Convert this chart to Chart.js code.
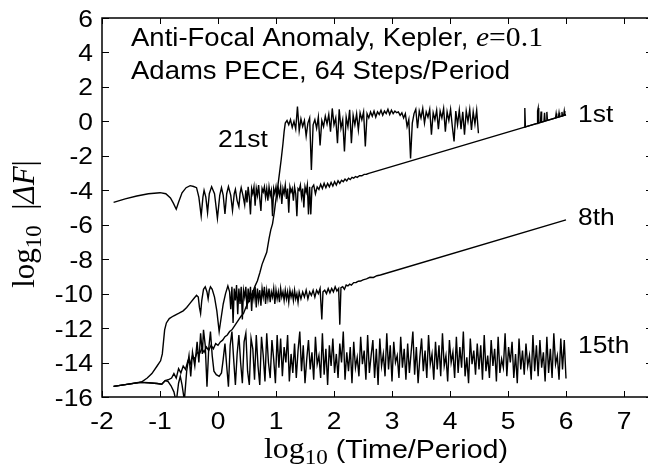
<!DOCTYPE html>
<html>
<head>
<meta charset="utf-8">
<title>Anti-Focal Anomaly error growth</title>
<script src="https://cdn.jsdelivr.net/npm/chart.js@4.4.1/dist/chart.umd.min.js"></script>
<style>
    body { margin: 0; background: #fff; overflow: hidden; }
    canvas { display: block; }
</style>
</head>
<body>
<canvas id="errorChart" width="654" height="466"></canvas>
<script>
// Axis ticks
const xTicks = [-2, -1, 0, 1, 2, 3, 4, 5, 6, 7];
const yTicks = [-16, -14, -12, -10, -8, -6, -4, -2, 0, 2, 4, 6];

// 1st order: log10(time) and log10|dF|
const x1stStart = [-1.80,-1.60,-1.40,-1.20,-1.00,-0.90,-0.82,-0.77,-0.72,-0.68,-0.62,-0.55,-0.48,-0.42,-0.37,-0.33,-0.29,-0.26,-0.24,-0.21,-0.18,-0.15,-0.11,-0.06,-0.01,0.03,0.06,0.09,0.12,0.15,0.18,0.22,0.25,0.28,0.30,0.33,0.36,0.38,0.40,0.43,0.46];
const y1stStart = [-4.70,-4.50,-4.33,-4.20,-4.14,-4.20,-4.45,-4.75,-5.10,-4.70,-4.15,-3.85,-3.73,-3.78,-3.85,-4.40,-5.49,-4.40,-4.01,-4.40,-5.30,-4.20,-3.79,-4.20,-5.63,-4.30,-3.85,-4.30,-5.38,-4.20,-3.79,-4.30,-5.18,-4.20,-3.95,-4.60,-4.95,-4.20,-3.85,-4.30,-4.85];
const x1stNoise = [0.48,0.50,0.52,0.54,0.56,0.58,0.60,0.62,0.64,0.66,0.68,0.70,0.72,0.74,0.76,0.78,0.80,0.82,0.84,0.86,0.88,0.90,0.92,0.94,0.96,0.98,1.00,1.02,1.04,1.06,1.08,1.10,1.12,1.14,1.16,1.18,1.20,1.22,1.24,1.26,1.28,1.30,1.32,1.34,1.36,1.38,1.40,1.42,1.44,1.46,1.48,1.50,1.52,1.54,1.56,1.58,1.60];
const y1stNoise = [-4.0,-4.7,-3.8,-4.4,-5.4,-3.9,-4.2,-3.8,-4.9,-3.9,
    -4.3,-3.7,-4.5,-5.2,-3.9,-4.1,-3.8,-4.4,-3.9,-4.6,
    -3.8,-4.3,-4.0,-5.5,-3.9,-4.2,-3.8,-4.4,-3.9,-4.3,
    -3.8,-4.8,-3.9,-4.2,-3.7,-4.5,-3.9,-5.3,-3.8,-4.1,
    -3.9,-4.6,-3.8,-4.2,-5.5,-3.9,-4.0,-3.7,-4.4,-3.9,
    -5.0,-3.8,-4.1,-3.7,-5.4,-3.8,-5.4];
const x1stTrend = [1.62,1.65,1.68,1.71,1.74,1.77,1.80,1.83,1.86,1.89,1.92,1.95,1.98,2.01,2.04,2.07,2.10,2.13,2.16,2.19,2.22,2.25,2.28,2.31,2.34,2.37,2.40,2.44,2.48,2.52,2.56,2.60,6.00];
const y1stTrend = [-3.85,-3.7,-4.2,-3.8,-3.95,-3.65,-3.9,-3.6,-3.85,-3.6,
    -3.8,-3.55,-3.75,-3.5,-3.7,-3.45,-3.6,-3.42,-3.5,-3.35,
    -3.45,-3.3,-3.38,-3.25,-3.3,-3.2,
    -3.25,-3.15,-3.16,-3.08,-3.07,-3.02,0.38];

// 8th order
const x8thStart = [-1.80,-1.60,-1.45,-1.32,-1.22,-1.14,-1.05,-0.99,-0.96,-0.94,-0.92,-0.89,-0.84,-0.77,-0.68,-0.60,-0.54,-0.48,-0.42,-0.37,-0.34,-0.32,-0.30,-0.28,-0.25,-0.22,-0.19,-0.17,-0.15,-0.13,-0.10,-0.06,-0.02,0.02,0.05,0.09,0.13,0.17,0.20];
const y8thStart = [-15.38,-15.28,-15.2,-15.13,-14.9,-14.64,-14.2,-13.9,-13.5,-12.8,-12.1,-11.7,-11.45,-11.3,-11.15,-11.0,-10.8,-10.55,-10.3,-10.1,-10.2,-10.8,-11.15,-10.4,-9.75,-9.6,-9.9,-10.3,-9.8,-9.6,-9.75,-10.2,-11.0,-12.2,-11.5,-10.6,-10.0,-9.55,-9.9];
const x8thNoise = [0.22,0.24,0.26,0.28,0.30,0.32,0.34,0.36,0.38,0.40,0.42,0.44,0.46,0.48,0.50,0.52,0.54,0.56,0.58,0.60,0.62,0.64,0.66,0.68,0.70,0.72,0.74,0.76,0.78,0.80,0.82,0.84,0.86,0.88,0.90,0.92,0.94,0.96,0.98,1.00,1.02,1.04,1.06,1.08,1.10,1.12,1.14,1.16,1.18,1.20,1.22,1.24,1.26,1.28,1.30,1.32,1.34,1.36,1.38,1.40];
const y8thNoise = [-10.9,-9.6,-11.7,-9.7,-10.4,-9.5,-11.2,-9.7,-10.6,-9.6,
    -11.5,-9.8,-10.2,-9.6,-10.9,-9.7,-10.5,-9.6,-11.0,-9.8,
    -10.3,-9.6,-10.8,-9.7,-10.4,-9.8,-10.7,-9.7,-10.2,-9.6,
    -10.6,-9.8,-10.3,-9.7,-10.5,-9.9,-10.2,-9.7,-10.6,-9.8,
    -10.3,-9.9,-10.5,-9.7,-10.2,-9.9,-10.4,-9.8,-10.3,-9.9,
    -10.5,-9.8,-10.2,-9.9,-10.4,-9.8,-10.3,-10.0,-10.5,-9.9];
const x8thTrend = [1.43,1.46,1.49,1.52,1.55,1.58,1.61,1.64,1.67,1.70,1.73,1.76,1.79,1.81,1.84,1.87,1.90,1.93,1.96,1.99,2.02,2.05,2.08,2.10,2.12,2.15,2.18,2.21,2.24,2.27,2.30,2.34,2.38,2.42,2.46,2.50,2.56,2.62,2.68,2.74,2.80,6.00];
const y8thTrend = [-10.3,-9.9,-10.2,-9.8,-10.3,-9.9,-10.1,-9.8,-10.2,-9.8,
    -10.0,-9.7,-11.5,-9.9,-9.8,-10.0,-9.7,-9.95,-9.7,-9.9,
    -9.6,-9.85,-9.7,-11.8,-9.65,-9.6,-9.75,-9.5,-9.55,-9.45,
    -9.5,-9.36,-9.35,-9.28,-9.27,-9.2,-9.14,-9.05,-9.06,-8.96,
    -8.92,-5.72];

// 15th order
const x15thStart = [-1.80,-1.60,-1.34,-1.20,-1.05,-0.97,-0.91,-0.86,-0.81,-0.76,-0.72,-0.68,-0.65,-0.62,-0.58,-0.54,-0.50,-0.47,-0.44,-0.40,-0.36,-0.33,-0.30,-0.27,-0.25,-0.22,-0.19,-0.16,-0.13,-0.10,-0.07,-0.03,0.02,0.06,0.09,0.12,0.15,0.18,0.21,0.24,0.27,0.30,0.33,0.36,0.39,0.42,0.45,0.48,0.51,0.54,0.57,0.60,0.63,0.66,0.69,0.72,0.75,0.78,0.81,0.84,0.87,0.90,0.93,0.96,0.99,1.02];
const y15thStart = [-15.38,-15.28,-15.15,-15.17,-15.22,-15.26,-15.05,-15.1,-15.35,-15.7,
    -16.3,-15.2,-14.8,-15.3,-16.2,-14.5,-13.6,-14.8,-13.4,-14.2,
    -12.8,-14.0,-12.3,-13.5,-12.1,-13.0,-15.4,-13.2,-12.2,-13.6,
    -14.5,-14.7,-14.8,-14.6,-13.8,-12.9,-14.2,-15.4,-13.0,-12.2,
    -13.8,-15.3,-13.5,-12.4,-14.0,-15.2,-12.8,-12.3,-14.5,-15.3,
    -12.6,-13.2,-15.0,-12.4,-14.2,-15.3,-12.5,-13.6,-15.1,-12.3,
    -14.0,-14.9,-12.7,-13.8,-15.2,-12.4];
const x15thNoise = [1.05,1.08,1.11,1.14,1.17,1.20,1.23,1.26,1.29,1.32,
    1.35,1.38,1.41,1.44,1.47,1.50,1.53,1.56,1.59,1.62,
    1.65,1.68,1.71,1.74,1.77,1.80,1.83,1.86,1.89,1.92,
    1.95,1.98,2.01,2.04,2.07,2.10,2.13,2.16,2.19,2.22,
    2.25,2.28,2.31,2.34,2.37,2.40,2.43,2.46,2.49,2.52,
    2.55,2.58,2.61,2.64,2.67,2.70,2.73,2.76,2.79,2.82,
    2.85,2.88,2.91,2.94,2.97,3.00,3.03,3.06,3.09,3.12,
    3.15,3.18,3.21,3.24,3.27,3.30,3.33,3.36,3.39,3.42,
    3.45,3.48,3.51,3.54,3.57,3.60,3.63,3.66,3.69,3.72,
    3.75,3.78,3.81,3.84,3.87,3.90,3.93,3.96,3.99,4.02,
    4.05,4.08,4.11,4.14,4.17,4.20,4.23,4.26,4.29,4.32,
    4.35,4.38,4.41,4.44,4.47,4.50,4.53,4.56,4.59,4.62,
    4.65,4.68,4.71,4.74,4.77,4.80,4.83,4.86,4.89,4.92,
    4.95,4.98,5.01,5.04,5.07,5.10,5.13,5.16,5.19,5.22,
    5.25,5.28,5.31,5.34,5.37,5.40,5.43,5.46,5.49,5.52,
    5.55,5.58,5.61,5.64,5.67,5.70,5.73,5.76,5.79,5.82,
    5.85,5.88,5.91,5.94,5.97,6.00];
const y15thNoise = [-14.3,-12.6,-14.8,-13.1,-14.0,-12.4,-15.1,-13.5,-14.6,-12.9,
    -14.9,-13.3,-12.2,-14.5,-13.0,-15.2,-13.8,-12.7,-14.4,-13.4,
    -15.0,-12.5,-14.1,-13.6,-14.9,-12.3,-14.7,-13.2,-15.3,-13.0,
    -14.2,-12.6,-14.6,-13.5,-14.9,-12.9,-14.0,-12.2,-15.0,-13.4,
    -14.5,-13.1,-15.2,-12.8,-14.3,-13.7,-14.8,-12.5,-14.1,-13.3,
    -15.0,-12.4,-14.6,-13.6,-12.7,-14.9,-13.2,-15.3,-12.6,-14.2,
    -13.5,-14.8,-12.3,-14.4,-13.0,-15.1,-12.8,-14.0,-13.6,-14.9,
    -12.5,-14.3,-13.2,-15.0,-12.9,-14.6,-13.4,-12.2,-14.7,-13.1,
    -15.2,-13.7,-12.6,-14.5,-13.3,-14.9,-12.4,-14.1,-13.5,-15.0,
    -12.8,-14.4,-13.0,-14.8,-12.3,-14.2,-13.6,-15.1,-12.7,-14.0,
    -13.4,-14.9,-12.5,-14.6,-13.1,-14.3,-12.2,-14.8,-13.7,-15.2,
    -12.6,-14.1,-13.3,-14.7,-12.9,-14.4,-13.0,-15.0,-12.4,-14.5,
    -13.6,-14.9,-12.7,-14.2,-13.2,-15.1,-12.5,-14.6,-13.8,-14.3,
    -12.3,-14.8,-13.1,-14.0,-12.8,-14.9,-13.5,-15.2,-12.6,-14.4,
    -13.3,-14.7,-12.9,-14.2,-13.6,-15.0,-12.4,-14.5,-13.0,-14.8,
    -12.7,-14.3,-13.4,-15.1,-12.5,-14.6,-13.2,-14.9,-12.3,-14.1,
    -13.6,-15.0,-12.6,-14.4,-12.7,-14.93];

// 21st order
const x21stRise = [-1.80,-1.60,-1.34,-1.20,-1.05,-0.97,-0.91,-0.86,-0.80,-0.76,-0.72,-0.68,-0.64,-0.60,-0.56,-0.52,-0.48,-0.44,-0.40,-0.36,-0.32,-0.28,-0.24,-0.20,-0.16,-0.12,-0.08,-0.04,0.00,0.04,0.08,0.12,0.16,0.20,0.24,0.28,0.32,0.36,0.40,0.44,0.48,0.52,0.56,0.60,0.64,0.68,0.72,0.76,0.80,0.84,0.88,0.91,0.94,0.97,1.00,1.03,1.06,1.09,1.12,1.14];
const y21stRise = [-15.38,-15.28,-15.15,-15.17,-15.22,-15.26,-15.05,-15.0,-14.9,-14.64,
    -14.9,-14.35,-14.6,-14.2,-14.4,-13.9,-14.1,-13.6,-13.8,-13.4,
    -13.5,-13.2,-13.4,-13.1,-13.3,-13.0,-13.2,-12.9,-13.0,-12.8,
    -12.7,-12.5,-12.4,-12.2,-12.1,-11.9,-11.7,-11.5,-11.3,-11.15,
    -10.8,-10.5,-10.2,-9.9,-9.55,-9.25,-8.8,-8.3,-7.95,-7.6,
    -6.8,-6.3,-5.95,-5.3,-4.5,-3.8,-3.0,-2.2,-1.3,-0.6];
const x21stPlateau = [1.16,1.19,1.22,1.25,1.28,1.31,1.34,1.37,1.40,1.43,
    1.46,1.49,1.52,1.55,1.58,1.61,1.64,1.67,1.70,1.73,
    1.76,1.79,1.82,1.85,1.88,1.91,1.94,1.97,2.00,2.03,
    2.06,2.09,2.12,2.15,2.18,2.21,2.24,2.27,2.30,2.33,
    2.36,2.39,2.42,2.45,2.48,2.51,2.54,2.57,2.60,2.63,
    2.66,2.69,2.72,2.75,2.78,2.81,2.84,2.87,2.90,2.93,
    2.96,2.99,3.02,3.05,3.08,3.11,3.14,3.17,3.20,3.23,
    3.26,3.29,3.32,3.35,3.38,3.41,3.44,3.47,3.50,3.53,
    3.56,3.59,3.62,3.65,3.68,3.71,3.74,3.77,3.80,3.83,
    3.86,3.89,3.92,3.95,3.98,4.01,4.04,4.07,4.10,4.13,
    4.16,4.19,4.22,4.25,4.28,4.31,4.34,4.37,4.40,4.43,
    4.46,4.49];
const y21stPlateau = [-0.10,0.05,-0.20,0.10,-0.35,0.00,-0.45,0.86,-0.55,0.15,
    -0.30,0.05,-0.85,-0.10,0.20,-2.82,-0.20,0.10,-0.40,0.25,
    -1.40,0.05,-0.30,0.30,-0.15,0.40,-0.60,0.75,-0.20,0.20,
    -1.27,0.70,-0.40,0.10,-1.75,0.25,-0.30,0.67,-1.27,0.35,
    -0.20,0.45,-0.50,0.50,0.10,0.55,-1.46,0.45,0.20,0.55,
    0.30,0.60,0.25,0.55,0.40,0.65,0.35,0.60,0.45,0.70,
    0.40,0.65,0.45,0.60,0.50,0.55,0.35,0.50,0.20,0.45,
    -0.30,0.10,-2.15,-0.10,0.45,0.70,-0.40,0.60,0.20,0.75,
    -0.10,0.55,0.25,0.70,-0.78,0.50,0.10,0.65,-0.45,0.60,
    0.20,0.75,-0.60,0.55,0.05,0.70,-0.30,-1.17,0.60,-0.20,
    0.65,-0.45,0.55,-0.78,0.60,0.00,0.70,-0.50,0.55,-0.15,
    0.65,-0.69];
const x21stTail = [4.50,5.28,5.29,5.30,5.50,5.51,5.52,5.53,5.56,5.57,5.58,5.62,5.63,5.64,5.66,5.67,5.68,5.82,5.83,5.84,5.87,5.88,5.89,5.92,5.93,5.94,5.96,5.97,5.98,6.00];
const y21stTail = [null,-0.34,0.77,-0.32,-0.12,0.60,0.77,-0.09,-0.06,0.57,-0.04,0.00,0.50,0.02,0.04,0.55,0.06,0.20,0.45,0.22,0.25,0.50,0.27,0.30,0.55,0.32,0.34,0.60,0.36,0.38];

// Text stretch: the source figure is a little wider than tall
const SX = 1.1;
const SANS = 'Liberation Sans, Arial, sans-serif';
const SERIF = 'Liberation Serif, Times New Roman, serif';

function toPoints(xs, ys) {
    return xs.map((x, i) => ({ x: x, y: ys[i] }));
}

function curve(label, xs, ys) {
    return {
        label: label,
        data: toPoints(xs, ys),
        borderColor: '#000',
        borderWidth: 1.4,
        pointRadius: 0,
        tension: 0,
        fill: false,
        spanGaps: false
    };
}

// draw a row of text pieces (text, font, dy) starting at x
function drawRuns(ctx, runs, x, y, align, sx) {
    let total = 0;
    runs.forEach(r => { ctx.font = r[1]; total += ctx.measureText(r[0]).width * sx; });
    let cx = x;
    if (align === 'right') cx = x - total;
    if (align === 'center') cx = x - total / 2;
    runs.forEach(r => {
        ctx.font = r[1];
        const w = ctx.measureText(r[0]).width;
        ctx.save();
        ctx.translate(cx, y + (r[2] || 0));
        ctx.scale(sx, 1);
        ctx.fillText(r[0], 0, 0);
        ctx.restore();
        cx += w * sx;
    });
}

const framePlugin = {
    id: 'gnuplotFrame',
    afterDraw(chart) {
        const ctx = chart.ctx;
        const area = chart.chartArea;
        const xs = chart.scales.x;
        const ys = chart.scales.y;
        ctx.save();
        ctx.strokeStyle = '#000';
        ctx.fillStyle = '#000';

        // border
        ctx.lineWidth = 1.5;
        ctx.strokeRect(area.left, area.top, area.right - area.left, area.bottom - area.top);

        // inward ticks on all sides
        ctx.lineWidth = 1;
        ctx.beginPath();
        xTicks.forEach(v => {
            const px = Math.round(xs.getPixelForValue(v)) + 0.5;
            ctx.moveTo(px, area.bottom); ctx.lineTo(px, area.bottom - 6);
            ctx.moveTo(px, area.top); ctx.lineTo(px, area.top + 6);
        });
        yTicks.forEach(v => {
            const py = Math.round(ys.getPixelForValue(v)) + 0.5;
            ctx.moveTo(area.left, py); ctx.lineTo(area.left + 7, py);
            ctx.moveTo(area.right, py); ctx.lineTo(area.right - 7, py);
        });
        ctx.stroke();

        // tick labels
        ctx.textBaseline = 'alphabetic';
        const tickFont = '24px ' + SANS;
        xTicks.forEach(v => {
            drawRuns(ctx, [[String(v), tickFont]], xs.getPixelForValue(v), 429, 'center', SX);
        });
        yTicks.forEach(v => {
            drawRuns(ctx, [[String(v), tickFont]], 93, ys.getPixelForValue(v) + 8.5, 'right', SX);
        });

        // axis titles
        drawRuns(ctx, [
            ['log', '29px ' + SERIF],
            ['10', '21px ' + SERIF, 6],
            [' (Time/Period)', '26px ' + SANS]
        ], 264, 458, 'left', SX);

        ctx.save();
        ctx.translate(24, 224);
        ctx.rotate(-Math.PI / 2);
        drawRuns(ctx, [
            ['log', '31px ' + SERIF],
            ['10', '23px ' + SERIF, 7],
            ['  |', '31px ' + SERIF],
            ['ΔF', 'italic 31px ' + SERIF],
            ['|', '31px ' + SERIF]
        ], 0, 10, 'center', 1);
        ctx.restore();

        // key text
        drawRuns(ctx, [
            ['Anti-Focal Anomaly, Kepler, ', '25px ' + SANS],
            ['e', 'italic 27px ' + SERIF],
            ['=0.1', '27px ' + SERIF]
        ], 131, 46, 'left', SX);
        drawRuns(ctx, [['Adams PECE, 64 Steps/Period', '25px ' + SANS]], 131, 79, 'left', SX);

        // curve labels
        const lab = '24px ' + SANS;
        drawRuns(ctx, [['21st', lab]], 218, 147, 'left', SX);
        drawRuns(ctx, [['1st', lab]], 578, 122, 'left', SX);
        drawRuns(ctx, [['8th', lab]], 578, 225, 'left', SX);
        drawRuns(ctx, [['15th', lab]], 578, 353, 'left', SX);

        ctx.restore();
    }
};

function initErrorChart() {
    const ctx = document.getElementById('errorChart');
    if (!ctx) return;

    new Chart(ctx, {
        type: 'line',
        data: {
            datasets: [
                curve('1st', x1stStart.concat(x1stNoise, x1stTrend), y1stStart.concat(y1stNoise, y1stTrend)),
                curve('8th', x8thStart.concat(x8thNoise, x8thTrend), y8thStart.concat(y8thNoise, y8thTrend)),
                curve('15th', x15thStart.concat(x15thNoise), y15thStart.concat(y15thNoise)),
                curve('21st', x21stRise.concat(x21stPlateau, x21stTail), y21stRise.concat(y21stPlateau, y21stTail))
            ]
        },
        options: {
            responsive: false,
            animation: false,
            events: [],
            layout: { padding: { left: 102, right: 1, top: 18, bottom: 69 } },
            plugins: {
                legend: { display: false },
                tooltip: { enabled: false }
            },
            scales: {
                x: { type: 'linear', min: -2, max: 7.5, display: false },
                y: { type: 'linear', min: -16, max: 6, display: false }
            }
        },
        plugins: [framePlugin]
    });
}

document.addEventListener('DOMContentLoaded', initErrorChart);
</script>
</body>
</html>
